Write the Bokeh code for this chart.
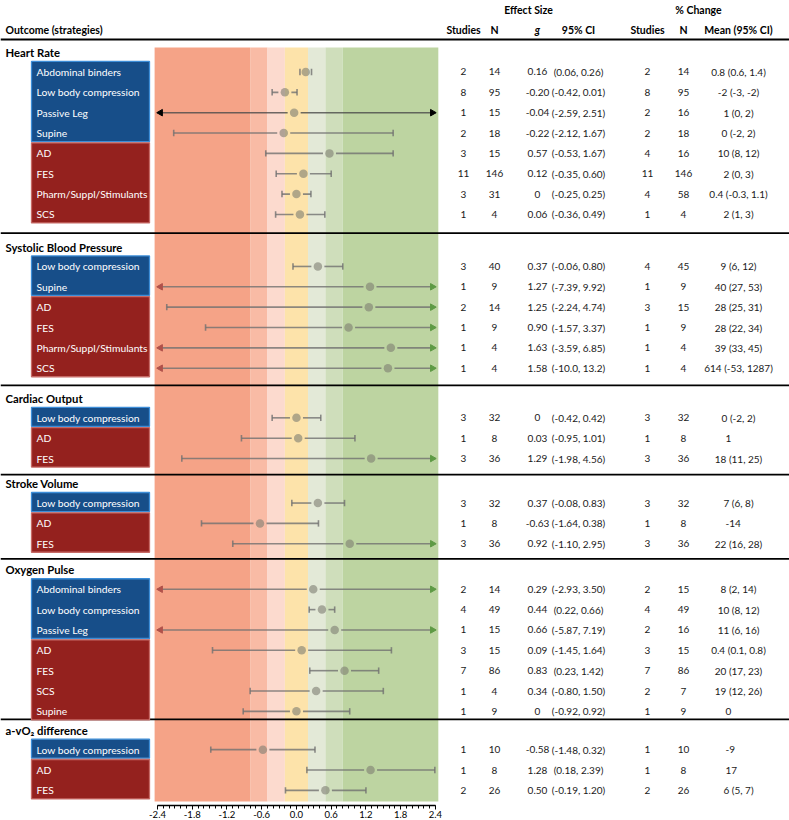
import math
from bokeh.plotting import figure
from bokeh.models import ColumnDataSource, Range1d, FixedTicker, PrintfTickFormatter
from bokeh.core.properties import value
from bokeh.embed import file_html
from bokeh.resources import INLINE

# ---------------- data ----------------
OUTCOMES = ["Heart Rate", "Systolic Blood Pressure", "Cardiac Output",
            "Stroke Volume", "Oxygen Pulse", "a-vO\u2082 difference"]

OUTCOME = (["Heart Rate"] * 8 + ["Systolic Blood Pressure"] * 6 + ["Cardiac Output"] * 3 +
           ["Stroke Volume"] * 3 + ["Oxygen Pulse"] * 7 + ["a-vO\u2082 difference"] * 3)

STRATEGY = ["Abdominal binders", "Low body compression", "Passive Leg", "Supine",
            "AD", "FES", "Pharm/Suppl/Stimulants", "SCS",
            "Low body compression", "Supine", "AD", "FES", "Pharm/Suppl/Stimulants", "SCS",
            "Low body compression", "AD", "FES",
            "Low body compression", "AD", "FES",
            "Abdominal binders", "Low body compression", "Passive Leg", "AD", "FES", "SCS", "Supine",
            "Low body compression", "AD", "FES"]

GROUP = ["B", "B", "B", "B", "R", "R", "R", "R",
         "B", "B", "R", "R", "R", "R",
         "B", "R", "R",
         "B", "R", "R",
         "B", "B", "B", "R", "R", "R", "R",
         "B", "R", "R"]

ES_STUDIES = ["2", "8", "1", "2", "3", "11", "3", "1",
              "3", "1", "2", "1", "1", "1",
              "3", "1", "3",
              "3", "1", "3",
              "2", "4", "1", "3", "7", "1", "1",
              "1", "1", "2"]

ES_N = ["14", "95", "15", "18", "15", "146", "31", "4",
        "40", "9", "14", "9", "4", "4",
        "32", "8", "36",
        "32", "8", "36",
        "14", "49", "15", "15", "86", "4", "9",
        "10", "8", "26"]

G = ["0.16", "-0.20", "-0.04", "-0.22", "0.57", "0.12", "0", "0.06",
     "0.37", "1.27", "1.25", "0.90", "1.63", "1.58",
     "0", "0.03", "1.29",
     "0.37", "-0.63", "0.92",
     "0.29", "0.44", "0.66", "0.09", "0.83", "0.34", "0",
     "-0.58", "1.28", "0.50"]

CI = ["(0.06, 0.26)", "(-0.42, 0.01)", "(-2.59, 2.51)", "(-2.12, 1.67)",
      "(-0.53, 1.67)", "(-0.35, 0.60)", "(-0.25, 0.25)", "(-0.36, 0.49)",
      "(-0.06, 0.80)", "(-7.39, 9.92)", "(-2.24, 4.74)", "(-1.57, 3.37)",
      "(-3.59, 6.85)", "(-10.0, 13.2)",
      "(-0.42, 0.42)", "(-0.95, 1.01)", "(-1.98, 4.56)",
      "(-0.08, 0.83)", "(-1.64, 0.38)", "(-1.10, 2.95)",
      "(-2.93, 3.50)", "(0.22, 0.66)", "(-5.87, 7.19)", "(-1.45, 1.64)",
      "(0.23, 1.42)", "(-0.80, 1.50)", "(-0.92, 0.92)",
      "(-1.48, 0.32)", "(0.18, 2.39)", "(-0.19, 1.20)"]

PC_STUDIES = ["2", "8", "2", "2", "4", "11", "4", "1",
              "4", "1", "3", "1", "1", "1",
              "3", "1", "3",
              "3", "1", "3",
              "2", "4", "2", "3", "7", "2", "1",
              "1", "1", "2"]

PC_N = ["14", "95", "16", "18", "16", "146", "58", "4",
        "45", "9", "15", "9", "4", "4",
        "32", "8", "36",
        "32", "8", "36",
        "15", "49", "16", "15", "86", "7", "9",
        "10", "8", "26"]

PC_MEAN = ["0.8 (0.6, 1.4)", "-2 (-3, -2)", "1 (0, 2)", "0 (-2, 2)",
           "10 (8, 12)", "2 (0, 3)", "0.4 (-0.3, 1.1)", "2 (1, 3)",
           "9 (6, 12)", "40 (27, 53)", "28 (25, 31)", "28 (22, 34)",
           "39 (33, 45)", "614 (-53, 1287)",
           "0 (-2, 2)", "1", "18 (11, 25)",
           "7 (6, 8)", "-14", "22 (16, 28)",
           "8 (2, 14)", "10 (8, 12)", "11 (6, 16)", "0.4 (0.1, 0.8)",
           "20 (17, 23)", "19 (12, 26)", "0",
           "-9", "17", "6 (5, 7)"]

BAND_EDGES = [-2.45, -0.8, -0.5, -0.2, 0.2, 0.5, 0.8, 2.45]
BAND_COLORS = ["#F5A387", "#F9BBA5", "#FCDACE", "#FDE3AA", "#E3E9D7", "#CFDEBB", "#BDD4A1"]
TICKS = [-2.4, -1.8, -1.2, -0.6, 0.0, 0.6, 1.2, 1.8, 2.4]
AXIS_MIN, AXIS_MAX = -2.4, 2.4
DARK_ARROW_ROWS = {("Heart Rate", "Passive Leg")}

# ---------------- layout (page px) ----------------
PX_PER = 57.9
X0_PX = 157.0
W, H_FIG = 789, 820
FH = 803.0  # frame height in px (data y == page px)
SECTION_HEAD_Y = [52, 246, 397, 482, 568, 728]
SEPARATOR_Y = [232, 384, 473, 557, 717]
S_ROW, H_OFF = 20.3, 19.3


def px2x(px):
    return AXIS_MIN + (px - X0_PX) / PX_PER


def parse_ci(s):
    a, b = s.strip("()").split(",")
    return float(a), float(b)


n = len(STRATEGY)
row_y = [0.0] * n
head_y = dict(zip(OUTCOMES, SECTION_HEAD_Y))
for oc in OUTCOMES:
    idx = [i for i in range(n) if OUTCOME[i] == oc]
    for j, i in enumerate(idx):
        row_y[i] = head_y[oc] + H_OFF + j * S_ROW

FONT = value("Lato")
TXT = "#1a1a1a"

p = figure(width=W, height=H_FIG, x_range=Range1d(px2x(0), px2x(W)),
           y_range=Range1d(FH, 0), output_backend="svg", toolbar_location=None,
           y_axis_location=None, min_border=0, outline_line_color=None)
p.grid.visible = False
p.background_fill_color = "white"
p.border_fill_color = "white"

# bands
p.quad(left=BAND_EDGES[:-1], right=BAND_EDGES[1:], top=47, bottom=799,
       fill_color=BAND_COLORS, line_color=None)

# separator lines
p.segment(x0=[px2x(0)], x1=[px2x(W)], y0=[39], y1=[39], line_color="black", line_width=2)
p.segment(x0=[px2x(0)] * len(SEPARATOR_Y), x1=[px2x(W)] * len(SEPARATOR_Y),
          y0=SEPARATOR_Y, y1=SEPARATOR_Y, line_color="black", line_width=1.8)

# strategy boxes (runs of same group within an outcome)
boxes = dict(top=[], bottom=[], fill=[], line=[])
for oc in OUTCOMES:
    idx = [i for i in range(n) if OUTCOME[i] == oc]
    start = idx[0]
    for a, b in zip(idx, idx[1:] + [None]):
        if b is None or GROUP[b] != GROUP[a]:
            boxes["top"].append(row_y[start] - 10.5)
            boxes["bottom"].append(row_y[a] + 8.5)
            boxes["fill"].append("#174E89" if GROUP[a] == "B" else "#94211E")
            boxes["line"].append("#3C8DD8" if GROUP[a] == "B" else "#C66A66")
            if b is not None:
                start = b
p.quad(left=px2x(31), right=px2x(149), top=boxes["top"], bottom=boxes["bottom"],
       fill_color=boxes["fill"], line_color=boxes["line"], line_width=1.3)

p.text(x=[px2x(36)] * n, y=row_y, text=STRATEGY, text_color="white", text_font=FONT,
       text_font_size="10.3px", text_baseline="middle", text_align="left")

# headings
p.text(x=[px2x(5)] * len(OUTCOMES), y=[head_y[o] for o in OUTCOMES], text=OUTCOMES,
       text_color="black", text_font=FONT, text_font_size="11.3px", text_font_style="bold",
       text_baseline="middle")
p.text(x=[px2x(5)], y=[29], text=["Outcome (strategies)"], text_color="black", text_font=FONT,
       text_font_size="10.5px", text_font_style="bold", text_baseline="middle")

# column headers
COLS_PX = [463, 494, 537, 578, 647, 683, 738]
HEADS = ["Studies", "N", "g", "95% CI", "Studies", "N", "Mean (95% CI)"]
HEAD_STYLE = ["bold", "bold", "bold italic", "bold", "bold", "bold", "bold"]
p.text(x=[px2x(c) for c in COLS_PX], y=[29] * 7, text=HEADS, text_color="black", text_font=FONT,
       text_font_size="10.5px", text_font_style=HEAD_STYLE, text_baseline="middle",
       text_align="center")
p.text(x=[px2x(528), px2x(698)], y=[9, 9], text=["Effect Size", "% Change"], text_color="black",
       text_font=FONT, text_font_size="10.5px", text_font_style="bold", text_baseline="middle",
       text_align="center")

# table values
tx, ty, tt, ta = [], [], [], []
for i in range(n):
    vals = [ES_STUDIES[i], ES_N[i], G[i], CI[i], PC_STUDIES[i], PC_N[i], PC_MEAN[i]]
    for c, v in zip(COLS_PX, vals):
        if c == 738 and "(" not in v:
            tx.append(px2x(725)); ta.append("left")
        else:
            tx.append(px2x(c)); ta.append("center")
        ty.append(row_y[i]); tt.append(v)
p.text(x=tx, y=ty, text=tt, text_align=ta, text_color=TXT, text_font=FONT,
       text_font_size="10px", text_baseline="middle")

# forest plot
gap = 6.5 / PX_PER
cap = 3.2
wl = dict(x0=[], x1=[], y0=[], y1=[], c=[])
caps = dict(x0=[], x1=[], y0=[], y1=[])
arr = dict(x=[], y=[], a=[], c=[])
est_x = []
for i in range(n):
    g = float(G[i])
    lo, hi = parse_ci(CI[i])
    lo_c, hi_c = max(lo, AXIS_MIN), min(hi, AXIS_MAX)
    dark = (OUTCOME[i], STRATEGY[i]) in DARK_ARROW_ROWS
    lc = "#4a4a4a" if dark else "#707070"
    if g - gap > lo_c:
        wl["x0"].append(lo_c); wl["x1"].append(g - gap); wl["y0"].append(row_y[i]); wl["y1"].append(row_y[i]); wl["c"].append(lc)
    if g + gap < hi_c:
        wl["x0"].append(g + gap); wl["x1"].append(hi_c); wl["y0"].append(row_y[i]); wl["y1"].append(row_y[i]); wl["c"].append(lc)
    for v, vc, side in ((lo, lo_c, -1), (hi, hi_c, 1)):
        if v == vc:
            caps["x0"].append(v); caps["x1"].append(v)
            caps["y0"].append(row_y[i] - cap); caps["y1"].append(row_y[i] + cap)
        else:
            arr["x"].append(vc - side * 3.0 / PX_PER)
            arr["y"].append(row_y[i])
            arr["a"].append(-math.pi / 2 if side > 0 else math.pi / 2)
            if dark:
                arr["c"].append("black")
            else:
                arr["c"].append("#5E9A45" if side > 0 else "#B0514A")
    est_x.append(g)

p.segment(x0="x0", x1="x1", y0="y0", y1="y1", line_color="c", line_width=1.6, line_alpha=0.8,
          source=ColumnDataSource(dict(x0=wl["x0"], x1=wl["x1"], y0=wl["y0"], y1=wl["y1"], c=wl["c"])))
p.segment(x0=caps["x0"], x1=caps["x1"], y0=caps["y0"], y1=caps["y1"], line_color="#707070",
          line_width=1.6, line_alpha=0.8)
p.scatter(x="x", y="y", angle="a", fill_color="c", line_color="c", marker="triangle", size=6.5,
          source=ColumnDataSource(dict(x=arr["x"], y=arr["y"], a=arr["a"], c=arr["c"])))
p.scatter(x=est_x, y=row_y, size=8.5, marker="circle", fill_color="#7d7d72", fill_alpha=0.6,
          line_color=None)

# x axis
ax = p.xaxis[0]
ax.bounds = (AXIS_MIN, AXIS_MAX)
ax.ticker = FixedTicker(ticks=TICKS, minor_ticks=[round(-2.4 + 0.1 * k, 1) for k in range(49)])
ax.formatter = PrintfTickFormatter(format="%.1f")
ax.axis_line_color = "black"
ax.axis_line_width = 1.5
ax.major_tick_in = 0
ax.major_tick_out = 4
ax.minor_tick_in = 0
ax.minor_tick_out = 3
ax.major_tick_line_color = "black"
ax.minor_tick_line_color = "black"
ax.major_label_standoff = 1
ax.major_label_text_font = "Lato"
ax.major_label_text_font_size = "9.5px"
ax.major_label_text_color = "black"

open("out.html", "w").write(file_html(p, INLINE))
